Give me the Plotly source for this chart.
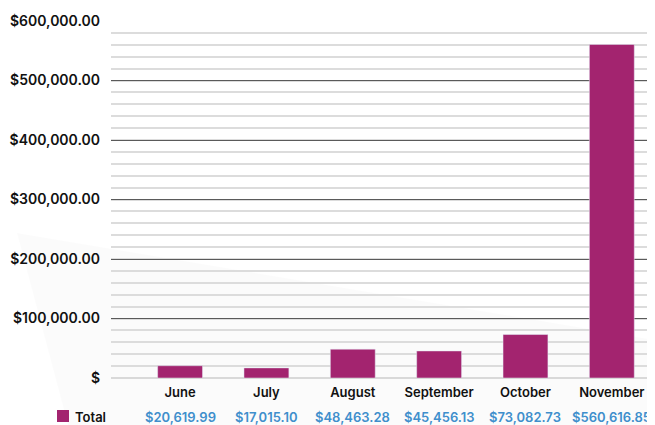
import plotly.graph_objects as go

months = ["June", "July", "August", "September", "October", "November"]
totals = [20619.99, 17015.10, 48463.28, 45456.13, 73082.73, 560616.85]
total_labels = ["$20,619.99", "$17,015.10", "$48,463.28", "$45,456.13", "$73,082.73", "$560,616.85"]
y_tick_vals = [0, 100000, 200000, 300000, 400000, 500000, 600000]
y_tick_text = ["$", "$100,000.00", "$200,000.00", "$300,000.00", "$400,000.00", "$500,000.00", "$600,000.00"]
series_name = "Total"

BAR = "#a3246f"
BLUE = "#3f8fcc"
FONT = "Inter"

# page body has an 8px default margin; the figure is sized to fit the window
OFF = 8
W, H = 655 - OFF, 425 - OFF
L, T = 111, 21          # plot-area left / top in window pixels
PW, PH = 655 - L, 378 - T


def px(x):
    return (x - L) / PW


def py(y):
    return (378 - y) / PH


fig = go.Figure()
fig.add_trace(go.Bar(
    x=months, y=totals, name=series_name, marker_color=BAR, width=0.52,
    showlegend=False,
))

ROW_Y = py(417)

# data table row under the categories
for m, lab in zip(months, total_labels):
    fig.add_annotation(x=m, xref="x", y=ROW_Y, yref="paper", text=lab,
                       showarrow=False, yanchor="middle",
                       font=dict(family=FONT, size=13, color=BLUE, weight=600))

# legend key for the table row
fig.add_shape(type="rect", xref="paper", yref="paper",
              x0=px(57), x1=px(69), y0=py(422), y1=py(410),
              fillcolor=BAR, line_width=0)
fig.add_annotation(x=px(73), xref="paper", y=ROW_Y, yref="paper",
                   text=series_name, showarrow=False, xanchor="left", yanchor="middle",
                   font=dict(family=FONT, size=13, color="#111111", weight=600))

# faint background shading
fig.add_shape(type="path", xref="paper", yref="paper", layer="below",
              path=f"M {px(17)} {py(233)} L {px(655)} {py(340)} L {px(655)} {py(425)} "
                   f"L {px(68)} {py(425)} Z",
              fillcolor="rgba(0,0,0,0.015)", line_width=0)

fig.update_layout(
    width=W, height=H,
    margin=dict(l=L - OFF, r=0, t=T - OFF, b=H - (378 - OFF)),
    paper_bgcolor="white", plot_bgcolor="rgba(0,0,0,0)",
    font=dict(family=FONT, color="#111111"),
    showlegend=False,
    xaxis=dict(range=[-0.8, 5.5], showgrid=False, showline=False, ticks="",
               automargin=False, ticklabelstandoff=5,
               tickfont=dict(family=FONT, size=13, color="#111111", weight=600)),
    yaxis=dict(range=[0, 600000], tickvals=y_tick_vals, ticktext=y_tick_text,
               showgrid=True, gridcolor="#5a5a5a", gridwidth=1,
               zeroline=True, zerolinecolor="#d9d9d9", zerolinewidth=1.5,
               showline=False, ticks="", ticklabelstandoff=10, automargin=False,
               tickfont=dict(family=FONT, size=14, color="#111111", weight=600),
               minor=dict(dtick=20000, tick0=0, showgrid=True,
                          gridcolor="#dcdcdc", gridwidth=1.5)),
)

fig.write_html("out.html")
